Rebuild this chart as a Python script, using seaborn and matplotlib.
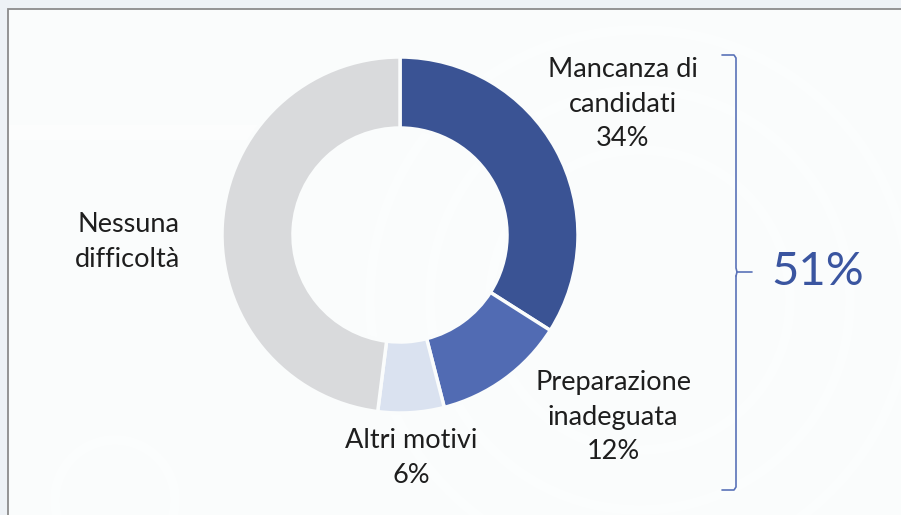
import matplotlib.pyplot as plt
import matplotlib.patches as mpatches
import seaborn as sns

# Data
categories = ["Mancanza di\ncandidati", "Preparazione\ninadeguata", "Altri motivi", "Nessuna\ndifficoltà"]
shares = [34, 12, 6, 48]
show_pct = [True, True, True, False]
colors = ["#3A5394", "#516BB3", "#DAE2F0", "#D9DADC"]
total_label = "51%"

sns.set_theme(style="white")
plt.rcParams['font.family'] = ['Lato', 'DejaVu Sans']

W, H = 901, 515
fig = plt.figure(figsize=(W / 100, H / 100), dpi=100)
fig.patch.set_facecolor("#EEF2F6")
ax = fig.add_axes([0, 0, 1, 1])

def yy(y):
    # pixel row (from top) -> data y (from bottom)
    return H - y

# panel with grey border
panel_col = "#FAFCFC"
ax.add_patch(mpatches.Rectangle((8, -5), W, yy(9) + 5, facecolor=panel_col,
                                edgecolor="#8C8C8C", linewidth=1.3, zorder=0))

# faint background decoration
for r, c in [(150, (640, 300)), (210, (640, 300)), (270, (640, 300)), (60, (115, 500))]:
    ax.add_patch(mpatches.Circle((c[0], yy(c[1])), r, fill=False, edgecolor="white",
                                 linewidth=7, alpha=0.35, zorder=0.5))
ax.add_patch(mpatches.Rectangle((9, yy(140)), 250, 15, facecolor="white", alpha=0.5,
                                edgecolor="none", zorder=0.5))

# donut
cx, cy, R = 400, 235, 178
ax.pie(shares, colors=colors, startangle=90, counterclock=False,
       center=(cx, yy(cy)), radius=R,
       wedgeprops=dict(width=71, edgecolor=panel_col, linewidth=2.5))

# labels
label_pos = [(623, 104), (613, 417), (411, 458), (128, 242)]
for cat, s, show, (lx, ly) in zip(categories, shares, show_pct, label_pos):
    txt = f"{cat}\n{s}%" if show else cat
    ax.text(lx, yy(ly), txt, ha="center", va="center", fontsize=19.5,
            color="#1E1E1E", linespacing=1.48)

# bracket
bcol = "#5A72B8"
bx = 736
ax.plot([722, bx - 2, bx, bx, bx + 1, 752], [yy(55), yy(55), yy(58), yy(268), yy(272), yy(272)],
        color=bcol, linewidth=1.2)
ax.plot([bx, bx, bx - 2, 722], [yy(276), yy(487), yy(490), yy(490)], color=bcol, linewidth=1.2)
ax.plot([bx, bx + 1], [yy(276), yy(272)], color=bcol, linewidth=1.2)
ax.text(818, yy(272), total_label, ha="center", va="center", fontsize=34, color="#3A55A0")

ax.set_xlim(0, W)
ax.set_ylim(0, H)
ax.set_aspect("auto")
ax.axis("off")

fig.savefig("out.png", dpi=100, facecolor=fig.get_facecolor())
